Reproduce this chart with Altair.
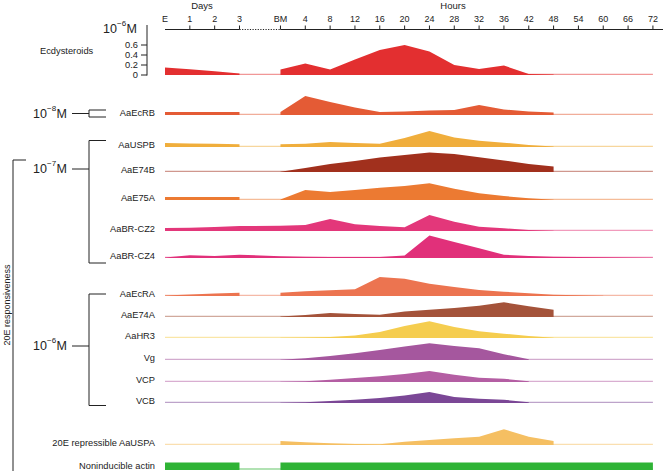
import altair as alt
import pandas as pd

# ---------------------------------------------------------------- time axis
DAY_TICKS = ["E", "1", "2", "3"]
HOUR_TICKS = ["BM", "4", "8", "12", "16", "20", "24", "28", "32", "36",
              "42", "48", "54", "60", "66", "72"]

# ------------------------------------------- haemolymph ecdysteroids (10^-6 M)
ECDYSTEROIDS = [0.15, 0.115, 0.075, 0.03,
                0.11, 0.23, 0.11, 0.31, 0.50, 0.60, 0.47, 0.20, 0.12, 0.19,
                0.02, 0.01, None, None, None, None]

# ------------------------------------- relative transcript abundance per gene
AaEcRB = [3, 3, 3, 3,
          3, 19, 13, 7.5, 3, 3.5, 4.5, 5, 10, 5.5, 3.5, 2.5, None, None, None, None]
AaUSPB = [4, 3.6, 3.2, 2.7,
          2.7, 3.3, 5, 4, 3.3, 9, 16, 9.5, 6.3, 4.3, 2, 0.5, None, None, None, None]
AaE74B = [0, 0, 0, 0,
          0.3, 4, 8, 11, 14.5, 17, 19.5, 18, 14.7, 11.6, 8, 5.6, None, None, None, None]
AaE75A = [3, 3, 3, 3,
          0.5, 10, 8, 10, 12.3, 14, 16.7, 11.3, 6.7, 4, 1.7, 0.3, None, None, None, None]
AaBR_CZ2 = [3, 3.3, 4, 5,
            5.3, 6, 12, 6.7, 5, 3.7, 16, 9.3, 4.3, 2.7, 1, 0.3, None, None, None, None]
AaBR_CZ4 = [0.5, 2.7, 2, 3.3,
            1.7, 1.3, 1, 1, 1, 2.5, 22.5, 16, 9.7, 3.3, 2, 1.3, 1, 0.7, 0.5, 0.3]
AaEcRA = [0.5, 1.5, 2.5, 3.3,
          3.3, 4.7, 5.7, 6.7, 19, 17.3, 12.3, 9, 6, 4.3, 2.7, 1.3, 0.7, 0.3, None, None]
AaE74A = [0, 0, 0, 0,
          0.5, 2, 4, 3, 2.3, 5.5, 7.3, 9, 11.3, 14.7, 10.7, 7.3, None, None, None, None]
AaHR3 = [0, 0, 0, 0,
         0.2, 0.5, 1, 2.5, 6, 12, 16.7, 11, 6.7, 4.3, 2, 0.3, None, None, None, None]
Vg = [0, 0, 0, 0,
      0.3, 1.7, 4, 6.7, 10, 13.5, 16.7, 14, 11.7, 5.7, 0.7, None, None, None, None, None]
VCP = [0, 0, 0, 0,
       0.2, 0.7, 2.3, 4, 5.7, 8, 11, 7.3, 4.3, 3.3, 0.7, None, None, None, None, None]
VCB = [0, 0, 0, 0,
       0.2, 0.7, 2, 3.3, 5, 7.5, 11, 6, 4.3, 3.3, 0.7, None, None, None, None, None]
AaUSPA = [0, 0, 0, 0,
          4, 2.7, 1.7, 1, 0.7, 3.3, 5, 6.7, 8.3, 15.7, 8.3, 4, None, None, None, None]
ACTIN = [7.5] * 20

# ------------------------------------------------------------------- layout
W, H = 671, 471
X0 = 165.0          # pixel column of "E"
STEP = 24.83        # pixels per time slot
BM_SLOT = 4.65      # slot of the blood meal
FONT = "Liberation Sans"
INK = "#222222"

POS = list(range(len(DAY_TICKS))) + [BM_SLOT + i for i in range(len(HOUR_TICKS))]
TICK_TEXT = DAY_TICKS + HOUR_TICKS
AXIS_END = (663 - X0) / STEP

XS = alt.Scale(domain=[-X0 / STEP, (W - X0) / STEP], nice=False, zero=False)
YS = alt.Scale(domain=[0, H], reverse=True, nice=False, zero=False)

# name, values, colour, track baseline (px), px per unit, split at blood meal
TRACKS = [
    ("Ecdysteroids", ECDYSTEROIDS, "#e32f30", 75, 50, True),
    ("AaEcRB", AaEcRB, "#e45b35", 115, 1, True),
    ("AaUSPB", AaUSPB, "#f0ae3c", 147, 1, True),
    ("AaE74B", AaE74B, "#a1301d", 172, 1, True),
    ("AaE75A", AaE75A, "#ec7a32", 200, 1, True),
    ("AaBR-CZ2", AaBR_CZ2, "#e3377a", 231, 1, False),
    ("AaBR-CZ4", AaBR_CZ4, "#e1307a", 258, 1, False),
    ("AaEcRA", AaEcRA, "#ec7450", 296, 1, True),
    ("AaE74A", AaE74A, "#a4533a", 317, 1, True),
    ("AaHR3", AaHR3, "#f5cd4f", 338, 1, True),
    ("Vg", Vg, "#a5579e", 360, 1, True),
    ("VCP", VCP, "#b45ea3", 382, 1, True),
    ("VCB", VCB, "#7b4796", 403, 1, True),
    ("20E repressible AaUSPA", AaUSPA, "#f5bf62", 445, 1, True),
    ("Noninducible actin", ACTIN, "#2fb335", 470, 1, True),
]
NAMES = [t[0] for t in TRACKS]
COLOURS = [t[2] for t in TRACKS]
COLOR = alt.Color("track:N", scale=alt.Scale(domain=NAMES, range=COLOURS), legend=None)


def xq(field):
    return alt.X(field, type="quantitative", scale=XS, axis=None)


def yq(field):
    return alt.Y(field, type="quantitative", scale=YS, axis=None)


def xpx(field):
    return alt.X(field, type="quantitative", scale=None, axis=None)


def ypx(field):
    return alt.Y(field, type="quantitative", scale=None, axis=None)


# ------------------------------------------------------------- profile areas
area_rows, base_rows = [], []
for name, vals, col, base, k, split in TRACKS:
    segs = [range(0, 4), range(4, len(POS))] if split else [range(0, len(POS))]
    for si, idx in enumerate(segs):
        pts = [(POS[i], vals[i]) for i in idx if vals[i] is not None]
        if not pts or max(v for _, v in pts) <= 0:
            continue
        for p, v in pts:
            area_rows.append(dict(track=name, seg=f"{name}:{si}", pos=p,
                                  top=base - v * k, base=base))
    base_rows.append(dict(track=name, p0=0, p1=POS[-1],
                          y=base - (1 if name == "Noninducible actin" else 0.6)))

areas = alt.Chart(pd.DataFrame(area_rows)).mark_area(interpolate="linear").encode(
    x=xq("pos"), y=yq("top"), y2="base:Q", color=COLOR, detail="seg:N")

baselines = alt.Chart(pd.DataFrame(base_rows)).mark_rule(
    strokeWidth=1.4, opacity=0.5).encode(
    x=xq("p0"), x2="p1:Q", y=yq("y"), color=COLOR)

# ------------------------------------------------------------- track labels
label_rows = [dict(track=n, y=b - (4 if n == "Noninducible actin" else 2))
              for n, _, _, b, _, _ in TRACKS[1:]]
labels = alt.Chart(pd.DataFrame(label_rows)).mark_text(
    align="right", baseline="middle", font=FONT, fontSize=9.3, color=INK).encode(
    x=alt.value(155), y=yq("y"), text="track:N")
ecd_label = alt.Chart(pd.DataFrame([dict(t="Ecdysteroids", y=51)])).mark_text(
    align="left", baseline="middle", font=FONT, fontSize=9.3, color=INK).encode(
    x=alt.value(40), y=yq("y"), text="t:N")

# ------------------------------------------------------------- time axis (top)
AXIS_Y = 29.5
axis_segments = pd.DataFrame([
    dict(p0=0, p1=3),
    dict(p0=BM_SLOT, p1=AXIS_END),
])
axis_line = alt.Chart(axis_segments).mark_rule(color=INK, strokeWidth=1).encode(
    x=xq("p0"), x2="p1:Q", y=alt.value(AXIS_Y))
axis_dots = alt.Chart(pd.DataFrame([dict(p0=3, p1=BM_SLOT)])).mark_rule(
    color=INK, strokeWidth=1, strokeDash=[1.2, 1.4]).encode(
    x=xq("p0"), x2="p1:Q", y=alt.value(AXIS_Y))
tick_df = pd.DataFrame(dict(pos=POS, text=TICK_TEXT))
axis_ticks = alt.Chart(tick_df[tick_df.text != "E"]).mark_rule(
    color=INK, strokeWidth=1).encode(
    x=xq("pos"), y=alt.value(AXIS_Y - 4), y2=alt.value(AXIS_Y))
axis_labels = alt.Chart(tick_df).mark_text(
    baseline="middle", font=FONT, fontSize=9, color=INK).encode(
    x=xq("pos"), y=alt.value(19), text="text:N")
axis_titles = alt.Chart(pd.DataFrame([dict(t="Days", x=202), dict(t="Hours", x=453)])).mark_text(
    baseline="middle", font=FONT, fontSize=9.5, color=INK).encode(
    x=xpx("x"), y=alt.value(6), text="t:N")

# ------------------------------------------------ ecdysteroid titre axis
ECD_TICKS = [0, 0.2, 0.4, 0.6]
ecd_base, ecd_k = TRACKS[0][3], TRACKS[0][4]
ecd_df = pd.DataFrame(dict(v=ECD_TICKS, y=[ecd_base - v * ecd_k for v in ECD_TICKS],
                           t=["0", "0.2", "0.4", "0.6"]))
ecd_axis = alt.Chart(pd.DataFrame([dict(y0=25, y1=ecd_base + 0.5)])).mark_rule(
    color=INK, strokeWidth=1).encode(x=alt.value(147), y=yq("y0"), y2="y1:Q")
ecd_ticks = alt.Chart(ecd_df).mark_rule(color=INK, strokeWidth=1).encode(
    x=alt.value(141), x2=alt.value(147), y=yq("y"))
ecd_tick_labels = alt.Chart(ecd_df).mark_text(
    align="right", baseline="middle", font=FONT, fontSize=9.3, color=INK).encode(
    x=alt.value(138), y=yq("y"), text="t:N")

# ------------------------------------------------ concentration annotations
conc = pd.DataFrame([
    dict(x=103, y=29, e="−6"),
    dict(x=33, y=114, e="−8"),
    dict(x=33, y=169, e="−7"),
    dict(x=33, y=346, e="−6"),
])
conc["xe"] = conc.x + 14
conc["ye"] = conc.y - 5
conc["xm"] = conc.x + 23.5
conc_base = alt.Chart(conc)
conc_ten = conc_base.mark_text(align="left", baseline="middle", font=FONT,
                               fontSize=12.5, color=INK).encode(
    x=xpx("x"), y=ypx("y"), text=alt.value("10"))
conc_exp = conc_base.mark_text(align="left", baseline="middle", font=FONT,
                               fontSize=8, color=INK).encode(
    x=xpx("xe"), y=ypx("ye"), text="e:N")
conc_m = conc_base.mark_text(align="left", baseline="middle", font=FONT,
                             fontSize=12.5, color=INK).encode(
    x=xpx("xm"), y=ypx("y"), text=alt.value("M"))

# bracket strokes: (x, x2, y, y2) in pixels
BRACKETS = [
    (72, 89, 113.5, 113.5), (89, 89, 110, 117), (89, 106, 110, 110), (89, 106, 117, 117),
    (72, 89, 169, 169), (89, 89, 140.5, 263), (89, 106, 140.5, 140.5), (89, 106, 263, 263),
    (72, 89, 346, 346), (89, 89, 294, 405.5), (89, 106, 294, 294), (89, 106, 405.5, 405.5),
    (13, 13, 160, 471), (13, 26, 160, 160),
]
br = pd.DataFrame(BRACKETS, columns=["x", "x2", "y", "y2"])
brackets = alt.Chart(br).mark_rule(color=INK, strokeWidth=1).encode(
    x=xpx("x"), x2="x2:Q", y=ypx("y"), y2="y2:Q")

side_title = alt.Chart(pd.DataFrame([dict(t="20E responsiveness", x=10, y=305)])).mark_text(
    angle=270, align="center", baseline="alphabetic", font=FONT, fontSize=9,
    color=INK).encode(x=xpx("x"), y=ypx("y"), text="t:N")

chart = alt.layer(
    baselines, areas, labels, ecd_label,
    axis_line, axis_dots, axis_ticks, axis_labels, axis_titles,
    ecd_axis, ecd_ticks, ecd_tick_labels,
    conc_ten, conc_exp, conc_m, brackets, side_title,
).resolve_scale(
    x="independent", y="independent", color="shared"
).properties(
    width=W, height=H, padding=0, autosize=alt.AutoSizeParams(type="none")
).configure_view(stroke=None)

chart.save("out.html", embed_options={"renderer": "svg", "actions": False})
